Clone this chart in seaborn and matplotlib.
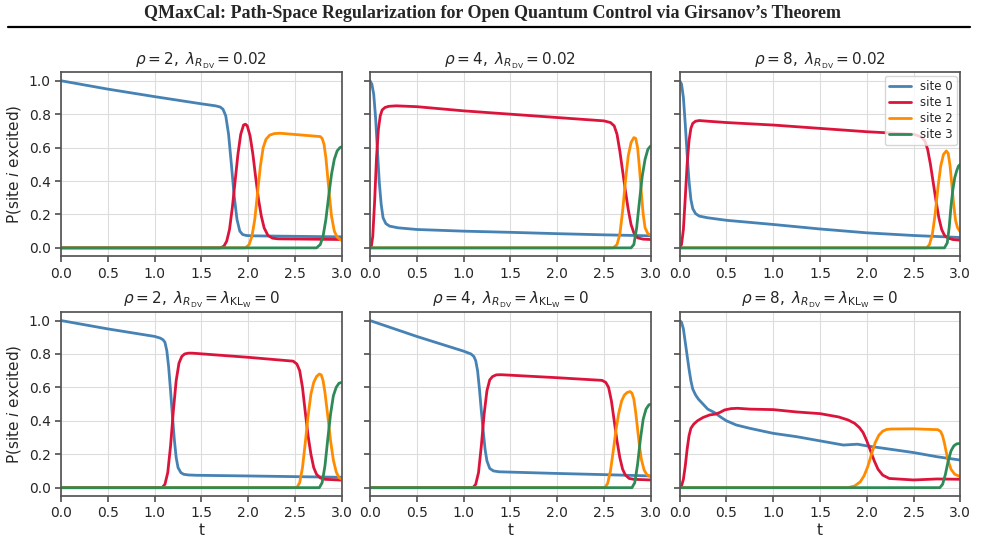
import numpy as np
import pandas as pd
import matplotlib
matplotlib.use('Agg')
import matplotlib.pyplot as plt
import seaborn as sns

# data: (t, P) knots per site
sites = ['site 0', 'site 1', 'site 2', 'site 3']
colors = ['#4682B4', '#DC143C', '#FF8C00', '#2E8B57']
rhos = [2, 4, 8]

# row 1 : lambda_RDV = 0.02
r2_reg = [
    ([0, 0.5, 1.0, 1.5, 1.65, 1.70, 1.73, 1.76, 1.79, 1.82, 1.85, 1.88, 1.91, 1.94, 1.98, 2.05, 2.2, 3.0],
     [1.0, 0.95, 0.905, 0.862, 0.85, 0.843, 0.83, 0.79, 0.68, 0.50, 0.31, 0.17, 0.10, 0.08, 0.074, 0.072, 0.071, 0.066]),
    ([0, 1.70, 1.74, 1.77, 1.80, 1.83, 1.86, 1.89, 1.92, 1.95, 1.97, 1.99, 2.02, 2.05, 2.08, 2.11, 2.14, 2.17, 2.21, 2.26, 2.32, 3.0],
     [0, 0, 0.01, 0.04, 0.11, 0.24, 0.40, 0.56, 0.68, 0.735, 0.74, 0.73, 0.67, 0.56, 0.42, 0.29, 0.19, 0.12, 0.075, 0.058, 0.054, 0.05]),
    ([0, 1.97, 2.01, 2.04, 2.07, 2.10, 2.13, 2.16, 2.19, 2.23, 2.28, 2.34, 2.77, 2.79, 2.81, 2.83, 2.85, 2.87, 2.89, 2.92, 2.95, 2.98, 3.0],
     [0, 0, 0.02, 0.07, 0.17, 0.33, 0.49, 0.60, 0.65, 0.675, 0.684, 0.686, 0.666, 0.655, 0.62, 0.54, 0.42, 0.30, 0.19, 0.10, 0.065, 0.05, 0.045]),
    ([0, 2.73, 2.77, 2.80, 2.83, 2.86, 2.89, 2.92, 2.95, 2.98, 3.0],
     [0, 0, 0.02, 0.07, 0.17, 0.31, 0.44, 0.53, 0.58, 0.60, 0.605]),
]
r4_reg = [
    ([0, 0.02, 0.04, 0.06, 0.08, 0.10, 0.12, 0.14, 0.17, 0.21, 0.3, 0.5, 1.0, 1.5, 2.0, 2.5, 3.0],
     [1.0, 0.98, 0.92, 0.78, 0.58, 0.39, 0.26, 0.18, 0.145, 0.13, 0.12, 0.11, 0.10, 0.093, 0.085, 0.078, 0.072]),
    ([0, 0.015, 0.03, 0.05, 0.07, 0.09, 0.11, 0.13, 0.16, 0.20, 0.28, 0.5, 1.0, 1.5, 2.0, 2.5, 2.57, 2.61, 2.64,
      2.67, 2.70, 2.73, 2.76, 2.79, 2.82, 2.86, 2.92, 3.0],
     [0, 0.01, 0.07, 0.28, 0.54, 0.71, 0.79, 0.825, 0.84, 0.847, 0.85, 0.845, 0.82, 0.80, 0.78, 0.76, 0.75, 0.73, 0.68,
      0.58, 0.46, 0.34, 0.23, 0.14, 0.09, 0.06, 0.052, 0.05]),
    ([0, 2.60, 2.64, 2.67, 2.70, 2.73, 2.76, 2.79, 2.82, 2.84, 2.86, 2.88, 2.90, 2.92, 2.94, 2.97, 3.0],
     [0, 0, 0.02, 0.08, 0.22, 0.40, 0.55, 0.63, 0.66, 0.655, 0.60, 0.48, 0.33, 0.20, 0.12, 0.085, 0.075]),
    ([0, 2.79, 2.82, 2.85, 2.88, 2.91, 2.94, 2.97, 3.0],
     [0, 0, 0.02, 0.12, 0.28, 0.43, 0.53, 0.59, 0.61]),
]
r8_reg = [
    ([0, 0.02, 0.04, 0.06, 0.08, 0.10, 0.12, 0.14, 0.17, 0.21, 0.3, 0.5, 1.0, 1.5, 2.0, 2.5, 3.0],
     [1.0, 0.98, 0.90, 0.74, 0.56, 0.40, 0.29, 0.235, 0.205, 0.19, 0.18, 0.165, 0.14, 0.113, 0.09, 0.074, 0.062]),
    ([0, 0.02, 0.04, 0.06, 0.08, 0.10, 0.12, 0.14, 0.17, 0.21, 0.3, 0.5, 1.0, 1.5, 2.0, 2.5, 2.58, 2.62, 2.65,
      2.68, 2.71, 2.74, 2.77, 2.80, 2.83, 2.87, 2.92, 3.0],
     [0, 0.02, 0.11, 0.30, 0.50, 0.64, 0.715, 0.745, 0.758, 0.762, 0.758, 0.75, 0.735, 0.715, 0.695, 0.68, 0.665, 0.64, 0.59,
      0.50, 0.39, 0.28, 0.18, 0.11, 0.075, 0.058, 0.05, 0.046]),
    ([0, 2.64, 2.67, 2.70, 2.73, 2.76, 2.79, 2.82, 2.85, 2.87, 2.89, 2.91, 2.93, 2.95, 2.97, 3.0],
     [0, 0, 0.02, 0.08, 0.20, 0.36, 0.49, 0.56, 0.58, 0.565, 0.49, 0.37, 0.25, 0.16, 0.12, 0.095]),
    ([0, 2.83, 2.86, 2.88, 2.90, 2.92, 2.94, 2.96, 2.98, 3.0],
     [0, 0, 0.03, 0.12, 0.25, 0.35, 0.42, 0.46, 0.49, 0.50]),
]

# row 2 : lambda_RDV = lambda_KLW = 0
r2_free = [
    ([0, 0.5, 1.0, 1.06, 1.09, 1.11, 1.13, 1.15, 1.17, 1.19, 1.21, 1.23, 1.25, 1.28, 1.31, 1.36, 1.45, 2.0, 2.5, 3.0],
     [1.0, 0.95, 0.905, 0.895, 0.885, 0.87, 0.82, 0.72, 0.58, 0.43, 0.29, 0.18, 0.12, 0.09, 0.08, 0.076, 0.074, 0.07, 0.066, 0.062]),
    ([0, 1.08, 1.11, 1.14, 1.17, 1.20, 1.23, 1.26, 1.29, 1.32, 1.36, 1.40, 2.0, 2.48, 2.52, 2.55, 2.58, 2.61, 2.64,
      2.67, 2.70, 2.73, 2.77, 2.82, 3.0],
     [0, 0, 0.02, 0.09, 0.25, 0.46, 0.64, 0.745, 0.785, 0.80, 0.805, 0.805, 0.78, 0.757, 0.74, 0.70, 0.60, 0.45, 0.31,
      0.20, 0.12, 0.08, 0.058, 0.05, 0.045]),
    ([0, 2.52, 2.55, 2.58, 2.61, 2.64, 2.67, 2.70, 2.73, 2.76, 2.78, 2.80, 2.82, 2.85, 2.88, 2.91, 2.94, 2.97, 3.0],
     [0, 0, 0.03, 0.12, 0.27, 0.43, 0.56, 0.63, 0.665, 0.68, 0.675, 0.64, 0.57, 0.43, 0.28, 0.165, 0.095, 0.06, 0.05]),
    ([0, 2.76, 2.79, 2.82, 2.85, 2.88, 2.91, 2.94, 2.97, 3.0],
     [0, 0, 0.03, 0.13, 0.29, 0.44, 0.55, 0.60, 0.625, 0.63]),
]
r4_free = [
    ([0, 0.5, 1.0, 1.08, 1.11, 1.13, 1.15, 1.17, 1.19, 1.21, 1.23, 1.25, 1.28, 1.32, 1.38, 1.5, 2.0, 2.5, 3.0],
     [1.0, 0.905, 0.817, 0.80, 0.785, 0.76, 0.70, 0.59, 0.46, 0.34, 0.23, 0.16, 0.115, 0.10, 0.095, 0.093, 0.085, 0.078, 0.07]),
    ([0, 1.10, 1.13, 1.16, 1.19, 1.22, 1.25, 1.28, 1.31, 1.35, 1.40, 2.0, 2.48, 2.52, 2.55, 2.58, 2.61, 2.64, 2.67,
      2.70, 2.73, 2.77, 2.82, 3.0],
     [0, 0, 0.02, 0.09, 0.25, 0.44, 0.58, 0.645, 0.665, 0.675, 0.676, 0.658, 0.642, 0.63, 0.60, 0.52, 0.40, 0.28, 0.18,
      0.11, 0.075, 0.055, 0.05, 0.046]),
    ([0, 2.51, 2.54, 2.57, 2.60, 2.63, 2.66, 2.69, 2.72, 2.75, 2.78, 2.80, 2.82, 2.84, 2.86, 2.88, 2.90, 2.93, 2.96, 3.0],
     [0, 0, 0.025, 0.10, 0.22, 0.35, 0.45, 0.52, 0.555, 0.57, 0.575, 0.565, 0.53, 0.45, 0.35, 0.25, 0.17, 0.105, 0.077, 0.066]),
    ([0, 2.80, 2.83, 2.86, 2.89, 2.92, 2.95, 2.98, 3.0],
     [0, 0, 0.03, 0.14, 0.29, 0.41, 0.47, 0.495, 0.50]),
]
r8_free = [
    ([0, 0.02, 0.04, 0.06, 0.08, 0.10, 0.12, 0.14, 0.17, 0.20, 0.25, 0.30, 0.37, 0.445, 0.5, 0.605, 0.75, 1.0, 1.25,
      1.5, 1.75, 1.9, 2.0, 2.25, 2.5, 2.75, 3.0],
     [1.0, 0.99, 0.95, 0.87, 0.79, 0.71, 0.64, 0.59, 0.555, 0.53, 0.50, 0.47, 0.45, 0.42, 0.40, 0.375, 0.355, 0.325, 0.305,
      0.28, 0.255, 0.26, 0.25, 0.23, 0.21, 0.185, 0.165]),
    ([0, 0.02, 0.04, 0.06, 0.08, 0.10, 0.12, 0.15, 0.19, 0.25, 0.32, 0.38, 0.43, 0.48, 0.55, 0.62, 0.75, 1.0, 1.25,
      1.5, 1.7, 1.80, 1.87, 1.92, 1.96, 2.00, 2.04, 2.08, 2.12, 2.17, 2.24, 2.5, 2.75, 3.0],
     [0, 0.01, 0.05, 0.13, 0.23, 0.31, 0.355, 0.38, 0.40, 0.42, 0.435, 0.44, 0.45, 0.465, 0.473, 0.475, 0.47, 0.467, 0.453,
      0.443, 0.423, 0.405, 0.385, 0.36, 0.33, 0.28, 0.22, 0.16, 0.11, 0.075, 0.055, 0.046, 0.052, 0.05]),
    ([0, 1.8, 1.87, 1.93, 1.97, 2.01, 2.05, 2.09, 2.13, 2.17, 2.21, 2.26, 2.5, 2.76, 2.79, 2.81, 2.83, 2.85, 2.87,
      2.90, 2.94, 3.0],
     [0, 0, 0.01, 0.035, 0.07, 0.125, 0.20, 0.27, 0.315, 0.338, 0.348, 0.351, 0.352, 0.347, 0.335, 0.31, 0.265, 0.21, 0.16,
      0.11, 0.08, 0.066]),
    ([0, 2.78, 2.81, 2.84, 2.87, 2.90, 2.93, 2.96, 3.0],
     [0, 0, 0.02, 0.08, 0.16, 0.22, 0.25, 0.262, 0.265]),
]

panels = [r2_reg, r4_reg, r8_reg, r2_free, r4_free, r8_free]


def to_frame(panel):
    rows = []
    for name, (t, p) in zip(sites, panel):
        for ti, pi in zip(t, p):
            rows.append((name, ti, pi))
    return pd.DataFrame(rows, columns=['site', 't', 'p'])


sns.set_theme(style='ticks')
plt.rcParams['font.family'] = ['DejaVu Sans']
plt.rcParams['mathtext.fontset'] = 'dejavusans'

fig = plt.figure(figsize=(9.85, 5.57), dpi=100)

# paper header
fig.text(0.5, 0.975, "QMaxCal: Path-Space Regularization for Open Quantum Control via Girsanov\u2019s Theorem",
         ha='center', va='center', fontsize=13, fontweight='bold', family='Liberation Serif')
fig.add_artist(plt.Line2D([0.008, 0.985], [0.951, 0.951], color='black', lw=1.6))

lefts = [0.062, 0.3756, 0.690]
bottoms = [0.540, 0.1095]
w, h = 0.285, 0.330

axes = []
for i, panel in enumerate(panels):
    r, c = divmod(i, 3)
    ax = fig.add_axes([lefts[c], bottoms[r], w, h], sharey=axes[0] if axes else None)
    axes.append(ax)
    df = to_frame(panel)
    sns.lineplot(data=df, x='t', y='p', hue='site', palette=colors, ax=ax,
                 linewidth=2, legend=(i == 2), estimator=None)
    for line in ax.get_lines():
        line.set_solid_joinstyle('round')
    ax.set_xlim(0, 3.0)
    ax.set_ylim(-0.05, 1.05)
    ax.set_xticks(np.arange(0, 3.01, 0.5))
    ax.set_yticks(np.arange(0, 1.01, 0.2))
    ax.grid(True, color='#dddddd', linewidth=0.8)
    for s in ax.spines.values():
        s.set_color('#555555')
    ax.tick_params(labelsize=10, color='#555555', length=4)
    if r == 0:
        ax.set_title(r'$\rho = %d,\ \lambda_{R_{\mathrm{DV}}} = 0.02$' % rhos[c], fontsize=11, pad=6)
        ax.set_xlabel('')
    else:
        ax.set_title(r'$\rho = %d,\ \lambda_{R_{\mathrm{DV}}} = \lambda_{\mathrm{KL}_{\mathrm{W}}} = 0$' % rhos[c],
                     fontsize=11, pad=6)
        ax.set_xlabel('t', fontsize=11, labelpad=2)
    if c == 0:
        ax.set_ylabel(r'P(site $i$ excited)', fontsize=11)
    else:
        ax.set_ylabel('')
        ax.tick_params(labelleft=False)

leg = axes[2].legend(loc='upper right', fontsize=8.5, frameon=True, borderpad=0.35,
                     handlelength=1.8, labelspacing=0.25, borderaxespad=0.3)
for line in leg.get_lines():
    line.set_linewidth(2)

fig.savefig('out.png', dpi=100)
